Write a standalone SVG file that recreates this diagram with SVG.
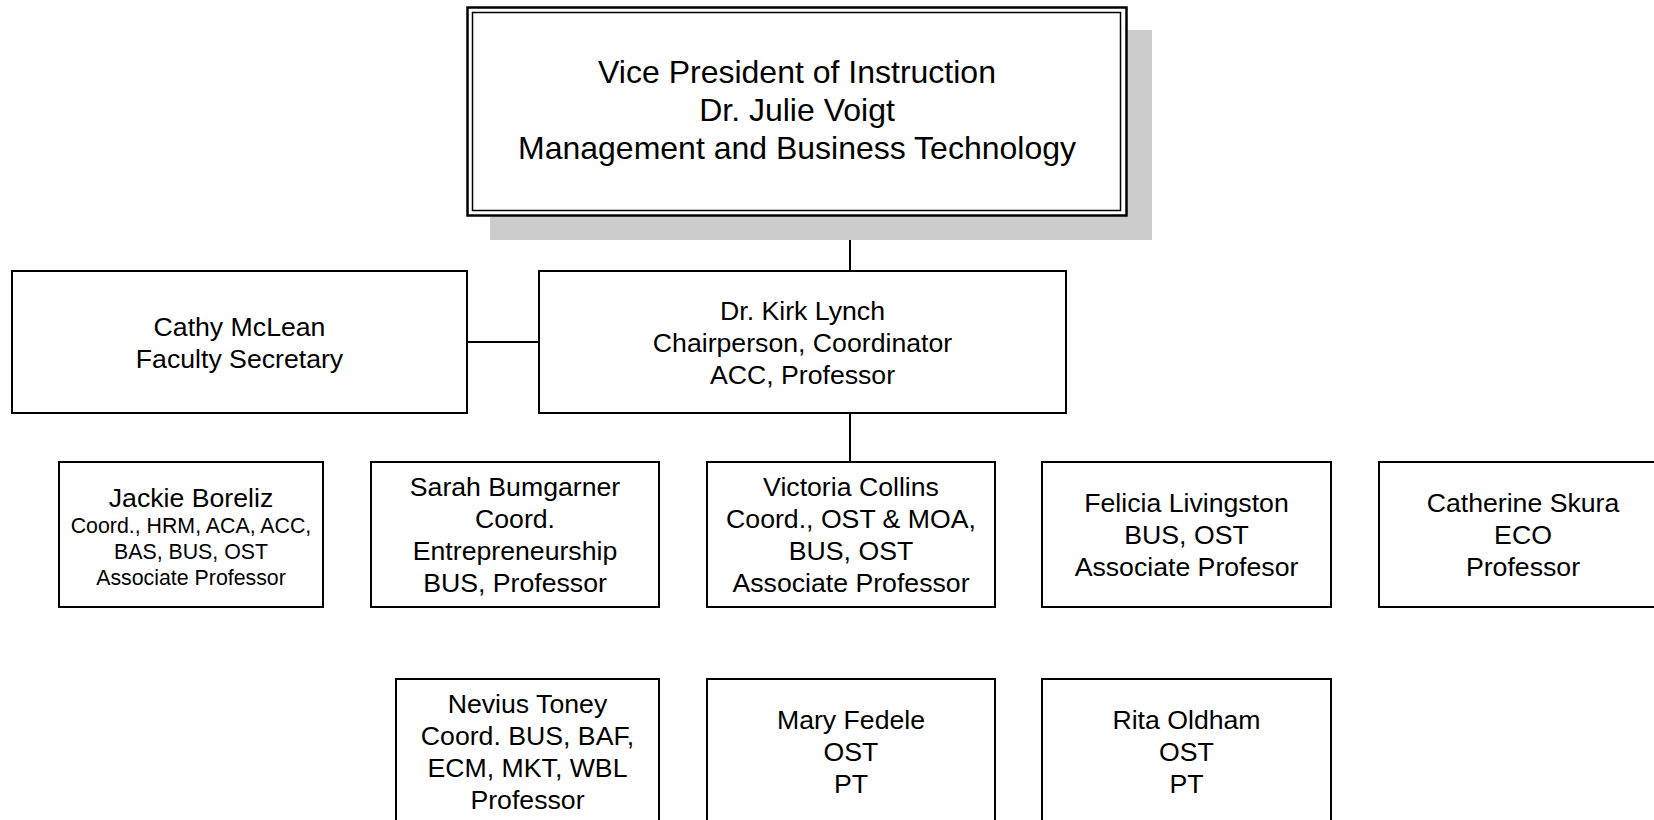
<svg xmlns="http://www.w3.org/2000/svg" width="1654" height="820" viewBox="0 0 1654 820">
<style>
.box{fill:#ffffff;stroke:#000000;stroke-width:2}
.conn{stroke:#000000;stroke-width:2;fill:none}
text{font-family:"Liberation Sans",Arial,sans-serif;fill:#000000;text-anchor:middle}
.t32{font-size:32px}
.t27{font-size:26.67px}
.t21{font-size:21.33px}
</style>
<rect width="1654" height="820" fill="#ffffff"/>
<g id="connectors">
<line class="conn" x1="850" y1="215" x2="850" y2="272"/>
<line class="conn" x1="467" y1="342" x2="539" y2="342"/>
<line class="conn" x1="850" y1="413" x2="850" y2="463"/>
</g>
<g id="vp">
<rect x="490" y="30" width="662" height="210" fill="#cccccc"/>
<rect x="467.5" y="7.5" width="659" height="208" fill="#ffffff" stroke="#000000" stroke-width="2.5"/>
<rect x="472.5" y="12.5" width="648" height="198" fill="none" stroke="#000000" stroke-width="1.5"/>
<text class="t32" x="797" y="83">Vice President of Instruction</text>
<text class="t32" x="797" y="121">Dr. Julie Voigt</text>
<text class="t32" x="797" y="159">Management and Business Technology</text>
</g>
<g id="cathy">
<rect class="box" x="12" y="271" width="455" height="142"/>
<text class="t27" x="239.5" y="336">Cathy McLean</text>
<text class="t27" x="239.5" y="368">Faculty Secretary</text>
</g>
<g id="kirk">
<rect class="box" x="539" y="271" width="527" height="142"/>
<text class="t27" x="802.5" y="320">Dr. Kirk Lynch</text>
<text class="t27" x="802.5" y="352">Chairperson, Coordinator</text>
<text class="t27" x="802.5" y="384">ACC, Professor</text>
</g>
<g id="jackie">
<rect class="box" x="59" y="462" width="264" height="145"/>
<text class="t27" x="191" y="507">Jackie Boreliz</text>
<text class="t21" x="191" y="533">Coord., HRM, ACA, ACC,</text>
<text class="t21" x="191" y="559">BAS, BUS, OST</text>
<text class="t21" x="191" y="585">Associate Professor</text>
</g>
<g id="sarah">
<rect class="box" x="371" y="462" width="288" height="145"/>
<text class="t27" x="515" y="496">Sarah Bumgarner</text>
<text class="t27" x="515" y="528">Coord.</text>
<text class="t27" x="515" y="560">Entrepreneurship</text>
<text class="t27" x="515" y="592">BUS, Professor</text>
</g>
<g id="victoria">
<rect class="box" x="707" y="462" width="288" height="145"/>
<text class="t27" x="851" y="496">Victoria Collins</text>
<text class="t27" x="851" y="528">Coord., OST &amp; MOA,</text>
<text class="t27" x="851" y="560">BUS, OST</text>
<text class="t27" x="851" y="592">Associate Professor</text>
</g>
<g id="felicia">
<rect class="box" x="1042" y="462" width="289" height="145"/>
<text class="t27" x="1186.5" y="512">Felicia Livingston</text>
<text class="t27" x="1186.5" y="544">BUS, OST</text>
<text class="t27" x="1186.5" y="576">Associate Profesor</text>
</g>
<g id="catherine">
<rect class="box" x="1379" y="462" width="288" height="145"/>
<text class="t27" x="1523" y="512">Catherine Skura</text>
<text class="t27" x="1523" y="544">ECO</text>
<text class="t27" x="1523" y="576">Professor</text>
</g>
<g id="nevius">
<rect class="box" x="396" y="679" width="263" height="145"/>
<text class="t27" x="527.5" y="713">Nevius Toney</text>
<text class="t27" x="527.5" y="745">Coord. BUS, BAF,</text>
<text class="t27" x="527.5" y="777">ECM, MKT, WBL</text>
<text class="t27" x="527.5" y="809">Professor</text>
</g>
<g id="mary">
<rect class="box" x="707" y="679" width="288" height="145"/>
<text class="t27" x="851" y="729">Mary Fedele</text>
<text class="t27" x="851" y="761">OST</text>
<text class="t27" x="851" y="793">PT</text>
</g>
<g id="rita">
<rect class="box" x="1042" y="679" width="289" height="145"/>
<text class="t27" x="1186.5" y="729">Rita Oldham</text>
<text class="t27" x="1186.5" y="761">OST</text>
<text class="t27" x="1186.5" y="793">PT</text>
</g>
</svg>
